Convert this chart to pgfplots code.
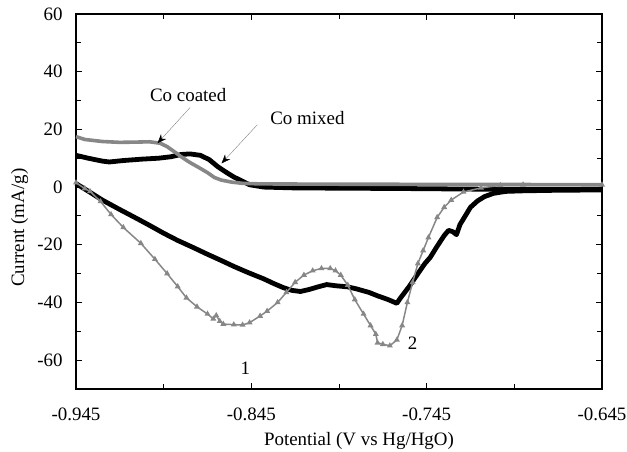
\documentclass[border=0pt]{standalone}
\usepackage{fontspec}
\setmainfont{Liberation Serif}
\usepackage{pgfplots}
\pgfplotsset{compat=1.18}
\usetikzlibrary{arrows.meta}

\definecolor{cvgrey}{RGB}{135,135,135}

\begin{document}
\fontsize{19}{22}\selectfont
\begin{tikzpicture}
\begin{axis}[
 name=ax,
 scale only axis,
 width=526bp,height=375bp,
 xmin=-0.945,xmax=-0.645,
 ymin=-70,ymax=60,
 xtick={-0.945,-0.845,-0.745,-0.645},
 xticklabels={-0.945,-0.845,-0.745,-0.645},
 ytick={-60,-40,-20,0,20,40,60},
 minor x tick num=1,
 minor y tick num=1,
 tick align=inside,
 major tick length=6bp,minor tick length=5bp,
 tick style={black,line width=0.9bp},
 axis line style={line width=1.3bp},
 /pgf/number format/assume math mode=true,
 tick label style={font=\fontsize{19}{22}\selectfont},
 label style={font=\fontsize{19}{22}\selectfont},
 xlabel={Potential (V vs Hg/HgO)},
 ylabel={Current (mA/g)},
 xticklabel style={yshift=-12bp},
 yticklabel style={xshift=-7bp},
 xlabel style={at={(axis description cs:0.538,0)},anchor=north,yshift=-37bp},
 ylabel style={at={(axis description cs:-0.107,0.43)},anchor=center},
 clip=false,
]
% Co mixed, cathodic sweep
\addplot[black,line width=4.8bp,line join=round] coordinates {
 (-0.945,1.2) (-0.937,-1.8) (-0.930,-4.5) (-0.920,-7.8) (-0.910,-11) (-0.903,-13.3)
 (-0.895,-16) (-0.887,-18.5) (-0.878,-21) (-0.870,-23.3) (-0.862,-25.5) (-0.855,-27.5)
 (-0.847,-29.6) (-0.838,-31.8) (-0.832,-33.5) (-0.827,-34.8) (-0.822,-35.8) (-0.817,-36.2)
 (-0.812,-35.5) (-0.807,-34.6) (-0.802,-33.8) (-0.797,-34.2) (-0.790,-34.6) (-0.785,-35.3)
 (-0.778,-36.5) (-0.773,-37.7) (-0.767,-39) (-0.762,-40.3) (-0.760,-38.5) (-0.755,-34.5)
 (-0.750,-30) (-0.746,-26.5) (-0.743,-24.4) (-0.739,-20.5) (-0.735,-16.8) (-0.7325,-15)
 (-0.730,-15.5) (-0.728,-16.5) (-0.726,-13) (-0.723,-10) (-0.720,-7) (-0.716,-4.8)
 (-0.712,-3.3) (-0.707,-2.2) (-0.700,-1.5) (-0.690,-1.3) (-0.670,-1.1) (-0.645,-1)
};
% Co mixed, anodic sweep
\addplot[black,line width=4.8bp,line join=round] coordinates {
 (-0.945,11) (-0.938,10) (-0.930,9) (-0.926,8.7) (-0.918,9.2) (-0.907,9.7) (-0.898,10)
 (-0.891,10.5) (-0.885,11.3) (-0.880,11.5) (-0.874,11) (-0.869,9.5) (-0.864,7) (-0.859,5)
 (-0.855,3.5) (-0.850,2) (-0.846,0.8) (-0.838,0) (-0.820,-0.3) (-0.760,-0.5) (-0.700,-0.8)
 (-0.645,-0.8)
};
% Co coated, anodic sweep
\addplot[cvgrey,line width=3.6bp,line join=round] coordinates {
 (-0.945,17.5) (-0.940,16.5) (-0.930,15.8) (-0.920,15.5) (-0.910,15.6) (-0.903,15.7)
 (-0.897,15.2) (-0.893,14) (-0.889,12.3) (-0.885,10.5) (-0.880,8.5) (-0.875,6.8) (-0.870,5)
 (-0.866,3.3) (-0.862,2.4) (-0.856,1.7) (-0.850,1.3) (-0.840,1.1) (-0.800,1) (-0.700,0.9)
 (-0.645,0.8)
};
% Co coated, cathodic sweep
\addplot[cvgrey,line width=1.5bp,mark=triangle*,mark size=2bp,mark options={cvgrey}] coordinates {
 (-0.945,1.5) (-0.940,-0.5) (-0.937,-1.5) (-0.931,-5) (-0.925,-9.5) (-0.918,-14) (-0.908,-19.5)
 (-0.900,-25) (-0.893,-30) (-0.887,-34.5) (-0.882,-38.4) (-0.876,-41.5) (-0.870,-44)
 (-0.8667,-45.7) (-0.865,-44.5) (-0.863,-46.5) (-0.861,-47.5) (-0.855,-47.7) (-0.850,-47.8)
 (-0.846,-47) (-0.840,-44.7) (-0.836,-43) (-0.830,-40) (-0.825,-36.5) (-0.820,-33)
 (-0.815,-30.5) (-0.810,-29) (-0.805,-28.2) (-0.800,-28.2) (-0.797,-29) (-0.794,-30.5)
 (-0.790,-34) (-0.786,-39) (-0.781,-44) (-0.777,-48) (-0.774,-51) (-0.773,-54) (-0.770,-54.5)
 (-0.766,-55) (-0.762,-53) (-0.759,-48) (-0.756,-40) (-0.753,-33) (-0.750,-26.5) (-0.747,-22)
 (-0.744,-17.5) (-0.739,-10.5) (-0.735,-7) (-0.731,-4.5) (-0.724,-1.7) (-0.714,-0.3)
 (-0.703,0.6) (-0.690,0.8) (-0.645,0.8)
};
\node at (axis cs:-0.881,32) {Co coated};
\node at (axis cs:-0.813,24) {Co mixed};
\draw[gray,thin,-{Stealth[black,length=9bp,width=7bp]}] (axis cs:-0.8799,27.6) -- (axis cs:-0.8985,15.2);
\draw[gray,thin,-{Stealth[black,length=9bp,width=7bp]}] (axis cs:-0.8416,21.6) -- (axis cs:-0.8620,8.2);
\node at (axis cs:-0.8484,-62.8) {1};
\node at (axis cs:-0.753,-54) {2};
\end{axis}
\pgfresetboundingbox
\path ([xshift=-76bp,yshift=-63bp]ax.south west) rectangle ([xshift=25bp,yshift=14bp]ax.north east);
\end{tikzpicture}
\end{document}
